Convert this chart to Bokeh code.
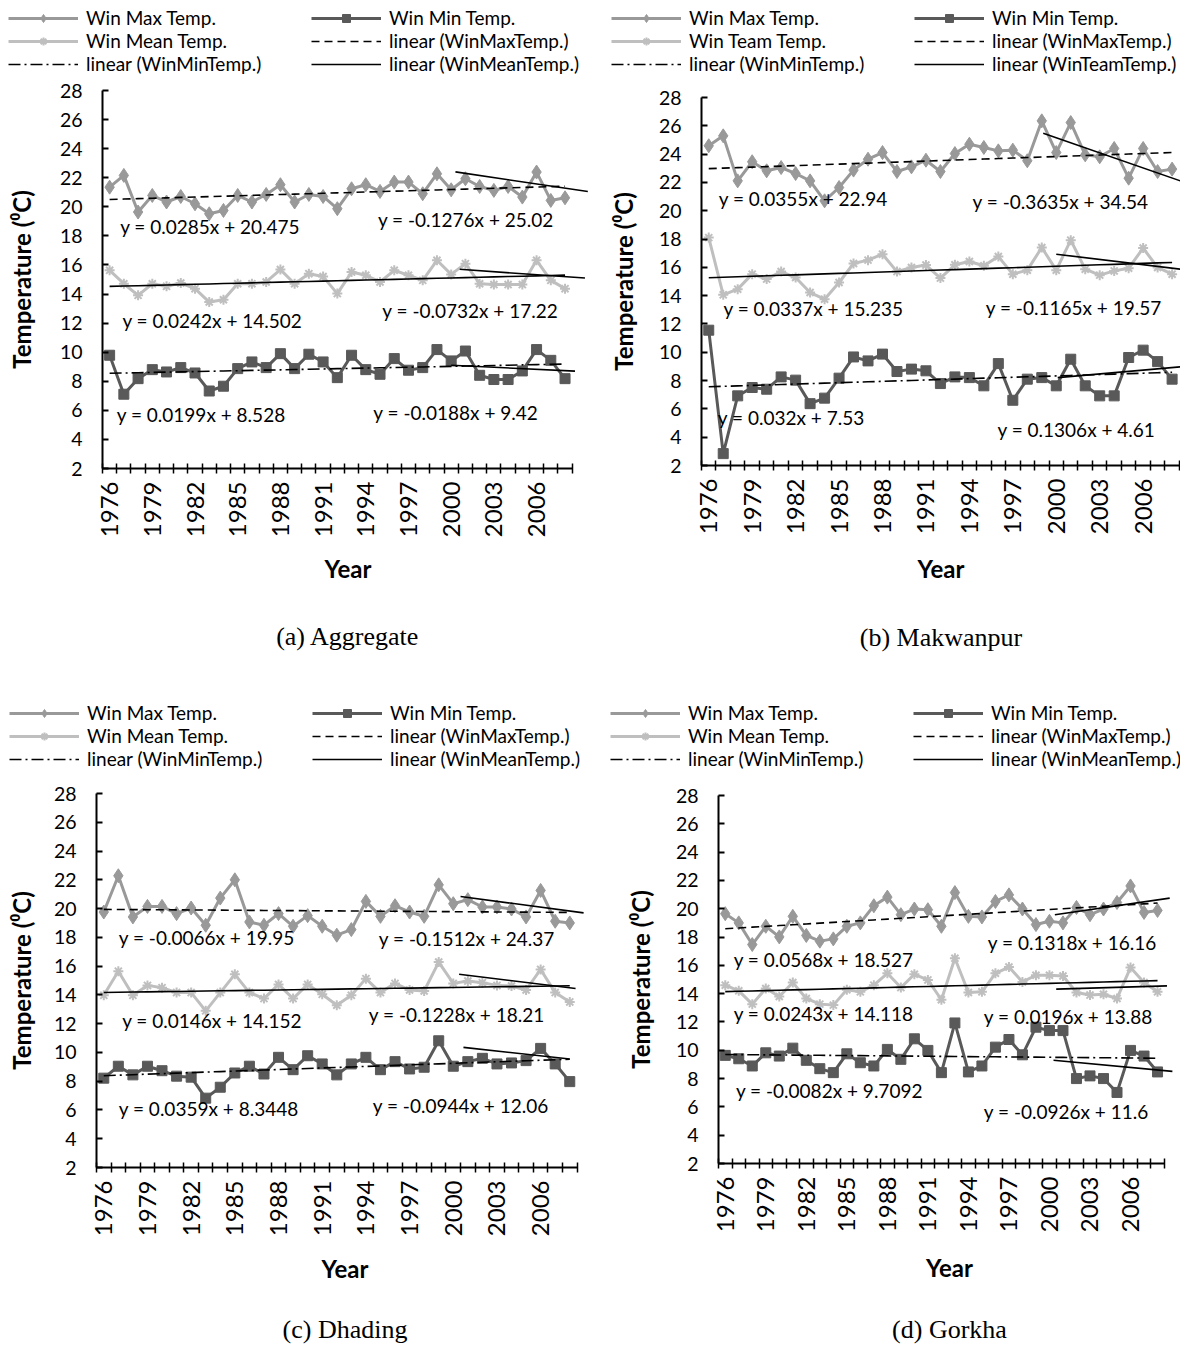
import math
from bokeh.plotting import figure
from bokeh.models import Range1d, FixedTicker, Legend, LegendItem, Label, LinearAxis
from bokeh.layouts import row, column
from bokeh.embed import file_html
from bokeh.resources import INLINE

# ---------------- data ----------------
years = list(range(1976, 2009))
year_tick_labels = list(range(1976, 2007, 3))
temp_ticks = list(range(2, 29, 2))
trend_x = list(range(1, len(years) + 1))   # Excel trendline x = 1..33

# (a) Aggregate
a_max = [21.35, 22.16, 19.64, 20.78, 20.33, 20.71, 20.21, 19.52, 19.75, 20.78,
         20.33, 20.85, 21.52, 20.33, 20.85, 20.71, 19.87, 21.24, 21.52, 21.06,
         21.7, 21.7, 20.9, 22.27, 21.17, 21.93, 21.4, 21.13, 21.4, 20.67,
         22.39, 20.44, 20.62]
a_mean = [15.63, 14.71, 13.91, 14.71, 14.53, 14.76, 14.37, 13.45, 13.61, 14.71,
          14.71, 14.83, 15.68, 14.71, 15.4, 15.2, 14.03, 15.51, 15.29, 14.83,
          15.63, 15.29, 14.94, 16.32, 15.35, 16.09, 14.71, 14.65, 14.65, 14.65,
          16.32, 14.94, 14.37]
a_min = [9.79, 7.11, 8.18, 8.8, 8.64, 8.94, 8.57, 7.33, 7.66, 8.87,
         9.33, 8.94, 9.9, 8.87, 9.86, 9.33, 8.25, 9.79, 8.8, 8.48,
         9.56, 8.76, 8.94, 10.18, 9.4, 10.08, 8.41, 8.12, 8.12, 8.71,
         10.18, 9.44, 8.18]
a_fit = {"max": (0.0285, 20.475), "mean": (0.0242, 14.502), "min": (0.0199, 8.528)}
a_recent_fit = {"max": (-0.1276, 25.02), "mean": (-0.0732, 17.22), "min": (-0.0188, 9.42)}
a_recent_line = {"max": ([2000.3, 2009.6], [22.4, 21.05]),
                 "mean": ([2000.6, 2009.4], [15.7, 15.1]),
                 "min": ([2000.0, 2008.7], [9.1, 8.7])}

# (b) Makwanpur
b_max = [24.59, 25.29, 22.11, 23.46, 22.82, 23.05, 22.63, 22.11, 20.7, 21.64,
         22.87, 23.64, 24.11, 22.77, 23.1, 23.57, 22.77, 24.04, 24.7, 24.47,
         24.23, 24.28, 23.53, 26.35, 24.11, 26.23, 23.95, 23.81, 24.4, 22.3,
         24.4, 22.77, 22.94]
b_mean = [18.1, 14.06, 14.46, 15.52, 15.17, 15.7, 15.28, 14.22, 13.75, 14.93,
          16.27, 16.51, 16.93, 15.7, 15.99, 16.16, 15.24, 16.18, 16.41, 16.11,
          16.76, 15.52, 15.8, 17.4, 15.8, 17.92, 15.87, 15.45, 15.75, 15.94,
          17.36, 15.99, 15.52]
b_min = [11.56, 2.84, 6.92, 7.51, 7.39, 8.26, 8.03, 6.37, 6.76, 8.17,
         9.67, 9.39, 9.87, 8.64, 8.81, 8.69, 7.79, 8.26, 8.21, 7.63,
         9.2, 6.61, 8.1, 8.21, 7.63, 9.51, 7.63, 6.92, 6.92, 9.63,
         10.15, 9.34, 8.1]
b_fit = {"max": (0.0355, 22.94), "mean": (0.0337, 15.235), "min": (0.032, 7.53)}
b_recent_fit = {"max": (-0.3635, 34.54), "mean": (-0.1165, 19.57), "min": (0.1306, 4.61)}
b_recent_line = {"max": ([1999.1, 2008.6], [25.48, 22.1]),
                 "mean": ([2000.0, 2008.6], [16.93, 15.87]),
                 "min": ([2000.1, 2008.6], [8.21, 8.97])}

# (c) Dhading
c_max = [19.76, 22.28, 19.42, 20.15, 20.15, 19.65, 20.04, 18.84, 20.73, 22.0,
         19.07, 18.84, 19.65, 18.77, 19.51, 18.77, 18.15, 18.54, 20.5, 19.46,
         20.2, 19.76, 19.46, 21.65, 20.34, 20.62, 20.11, 20.11, 19.97, 19.42,
         21.26, 19.12, 19.0]
c_mean = [13.97, 15.65, 13.97, 14.66, 14.5, 14.16, 14.16, 12.89, 14.16, 15.43,
          14.16, 13.74, 14.73, 13.74, 14.73, 14.04, 13.28, 13.97, 15.13, 14.16,
          14.8, 14.34, 14.27, 16.28, 14.8, 14.96, 14.85, 14.66, 14.62, 14.34,
          15.77, 14.16, 13.51]
c_min = [8.21, 9.04, 8.44, 9.04, 8.73, 8.35, 8.28, 6.82, 7.58, 8.57,
         9.04, 8.5, 9.66, 8.8, 9.77, 9.2, 8.44, 9.2, 9.66, 8.8,
         9.36, 8.85, 8.97, 10.81, 9.04, 9.36, 9.59, 9.2, 9.27, 9.43,
         10.28, 9.2, 7.97]
c_fit = {"max": (-0.0066, 19.95), "mean": (0.0146, 14.152), "min": (0.0359, 8.3448)}
c_recent_fit = {"max": (-0.1512, 24.37), "mean": (-0.1228, 18.21), "min": (-0.0944, 12.06)}
c_recent_line = {"max": ([2000.5, 2008.95], [20.84, 19.7]),
                 "mean": ([2000.4, 2008.4], [15.43, 14.44]),
                 "min": ([2000.7, 2008.0], [10.35, 9.54])}

# (d) Gorkha
d_max = [19.65, 19.0, 17.47, 18.76, 18.01, 19.46, 18.11, 17.71, 17.87, 18.76,
         19.0, 20.21, 20.82, 19.58, 19.98, 19.93, 18.76, 21.14, 19.46, 19.42,
         20.51, 20.98, 19.98, 18.88, 19.11, 19.0, 20.09, 19.58, 19.98, 20.44,
         21.61, 19.74, 19.88]
d_mean = [14.6, 14.2, 13.26, 14.36, 13.8, 14.78, 13.66, 13.26, 13.19, 14.27,
          14.13, 14.6, 15.44, 14.43, 15.37, 14.97, 13.57, 16.5, 14.08, 14.13,
          15.44, 15.88, 14.83, 15.3, 15.3, 15.25, 14.08, 13.9, 13.96, 13.66,
          15.84, 14.78, 14.13]
d_min = [9.64, 9.4, 8.89, 9.82, 9.59, 10.15, 9.29, 8.7, 8.42, 9.75,
         9.12, 8.89, 10.06, 9.36, 10.81, 9.99, 8.42, 11.93, 8.47, 8.89,
         10.22, 10.76, 9.68, 11.63, 11.39, 11.39, 8.0, 8.19, 8.0, 7.02,
         9.99, 9.59, 8.47]
d_fit = {"max": (0.0568, 18.527), "mean": (0.0243, 14.118), "min": (-0.0082, 9.7092)}
d_recent_fit = {"max": (0.1318, 16.16), "mean": (0.0196, 13.88), "min": (-0.0926, 11.6)}
d_recent_line = {"max": ([2000.4, 2008.9], [19.58, 20.75]),
                 "mean": ([2000.5, 2008.7], [14.32, 14.55]),
                 "min": ([2000.3, 2009.1], [9.29, 8.51])}

captions = ["(a) Aggregate", "(b) Makwanpur", "(c) Dhading", "(d) Gorkha"]
mean_names = ["Mean", "Team", "Mean", "Mean"]

# ---------------- layout / style (not data) ----------------
FONT = "Lato"
MAX_C, MIN_C, MEAN_C = "#999999", "#595959", "#bfbfbf"
LEG_H = 80          # height of the legend strip above each chart
LEG_ROWS_H = 68     # approx. height of the 3 legend rows

layouts = [
    dict(width=593, height=620, left=102, top=10, frame_h=378, x_end=2010.0,
         ylab_st=21, xlab_st=14, cap_st=35, leg_x=8, leg_y=7,
         eq={"max": (1976.74, 18.67), "max_r": (1994.85, 19.11),
             "mean": (1976.9, 12.19), "mean_r": (1995.16, 12.88),
             "min": (1976.5, 5.73), "min_r": (1994.53, 5.82)}),
    dict(width=587, height=620, left=108, top=17, frame_h=368, x_end=2008.58,
         ylab_st=18, xlab_st=17, cap_st=36, leg_x=18, leg_y=7,
         eq={"max": (1976.69, 20.89), "max_r": (1994.22, 20.65),
             "mean": (1977.02, 13.12), "mean_r": (1995.13, 13.14),
             "min": (1976.63, 5.39), "min_r": (1995.94, 4.57)}),
    dict(width=593, height=566, left=96, top=13, frame_h=376, x_end=2009.63,
         ylab_st=15, xlab_st=15, cap_st=28, leg_x=9, leg_y=2,
         eq={"max": (1977.03, 18.01), "max_r": (1994.89, 17.9),
             "mean": (1977.26, 12.19), "mean_r": (1994.2, 12.66),
             "min": (1977.03, 6.08), "min_r": (1994.47, 6.31)}),
    dict(width=587, height=566, left=125, top=15, frame_h=370, x_end=2009.7,
         ylab_st=18, xlab_st=18, cap_st=29, leg_x=17, leg_y=2,
         eq={"max": (1976.62, 16.42), "max_r": (1995.44, 17.59),
             "mean": (1976.62, 12.63), "mean_r": (1995.14, 12.4),
             "min": (1976.79, 7.18), "min_r": (1995.14, 5.66)}),
]

panel_data = [
    (a_max, a_min, a_mean, a_fit, a_recent_fit, a_recent_line),
    (b_max, b_min, b_mean, b_fit, b_recent_fit, b_recent_line),
    (c_max, c_min, c_mean, c_fit, c_recent_fit, c_recent_line),
    (d_max, d_min, d_mean, d_fit, d_recent_fit, d_recent_line),
]

STYLE = {
    "max_line": dict(line_color=MAX_C, line_width=3),
    "max_mark": dict(marker="diamond", size=14, fill_color=MAX_C, line_color=MAX_C),
    "min_line": dict(line_color=MIN_C, line_width=3),
    "min_mark": dict(marker="square", size=10, fill_color=MIN_C, line_color=MIN_C),
    "mean_line": dict(line_color=MEAN_C, line_width=3),
    "mean_mark": dict(marker="asterisk", size=10, line_color=MEAN_C, line_width=2),
    "t_max": dict(line_color="black", line_width=1.6, line_dash="8 5"),
    "t_min": dict(line_color="black", line_width=1.6, line_dash="12 4 2 4"),
    "t_mean": dict(line_color="black", line_width=1.6),
}


def eq_text(fit):
    m, b = fit
    return f"y = {m}x + {b}"


def make_legend(i):
    L = layouts[i]
    mean_name = mean_names[i]
    lf = figure(width=L["width"], height=LEG_H, x_range=Range1d(0, 1), y_range=Range1d(0, 1),
                x_axis_type=None, y_axis_type=None, toolbar_location=None,
                output_backend="svg", min_border=0, min_border_left=0, min_border_right=0,
                min_border_top=0, min_border_bottom=0)
    lf.outline_line_color = None
    lf.background_fill_color = "white"
    lf.border_fill_color = "white"
    # key samples only (kept outside the visible range; the legend draws them)
    off_x, off_y = [-5, -4], [-5, -4]
    r = {}
    for k in ("max_line", "min_line", "mean_line", "t_max", "t_min", "t_mean"):
        r[k] = lf.line(off_x, off_y, **STYLE[k])
    for k in ("max_mark", "min_mark", "mean_mark"):
        r[k] = lf.scatter(off_x[:1], off_y[:1], **STYLE[k])
    items = [
        LegendItem(label="Win Max Temp.", renderers=[r["max_line"], r["max_mark"]]),
        LegendItem(label="Win Min Temp.", renderers=[r["min_line"], r["min_mark"]]),
        LegendItem(label=f"Win {mean_name} Temp.", renderers=[r["mean_line"], r["mean_mark"]]),
        LegendItem(label="linear (WinMaxTemp.)", renderers=[r["t_max"]]),
        LegendItem(label="linear (WinMinTemp.)", renderers=[r["t_min"]]),
        LegendItem(label=f"linear (Win{mean_name}Temp.)", renderers=[r["t_mean"]]),
    ]
    legend = Legend(items=items, orientation="horizontal", ncols=2,
                    location=(L["leg_x"], LEG_H - LEG_ROWS_H - L["leg_y"]),
                    glyph_width=70, glyph_height=20, label_standoff=8,
                    label_width=225, label_height=20, spacing=0, padding=0, margin=0,
                    label_text_font=FONT, label_text_font_size="19px",
                    label_text_color="black",
                    background_fill_alpha=0, border_line_alpha=0)
    lf.add_layout(legend)
    return lf


def make_panel(i):
    L = layouts[i]
    s_max, s_min, s_mean, fit, rfit, rline = panel_data[i]
    bottom = L["height"] - L["top"] - L["frame_h"]
    p = figure(width=L["width"], height=L["height"],
               x_range=Range1d(1975.5, L["x_end"]), y_range=Range1d(2, 28),
               output_backend="svg", toolbar_location=None,
               min_border_left=L["left"], min_border_top=L["top"],
               min_border_bottom=bottom, min_border_right=0)
    p.outline_line_color = None
    p.xgrid.visible = False
    p.ygrid.visible = False
    p.background_fill_color = "white"
    p.border_fill_color = "white"

    # series
    p.line(years, s_max, **STYLE["max_line"])
    p.scatter(years, s_max, **STYLE["max_mark"])
    p.line(years, s_min, **STYLE["min_line"])
    p.scatter(years, s_min, **STYLE["min_mark"])
    p.line(years, s_mean, **STYLE["mean_line"])
    p.scatter(years, s_mean, **STYLE["mean_mark"])

    # full-period linear trends (from the equations shown)
    def trend(key):
        m, b = fit[key]
        return [m * t + b for t in trend_x]
    p.line(years, trend("max"), **STYLE["t_max"])
    p.line(years, trend("min"), **STYLE["t_min"])
    p.line(years, trend("mean"), **STYLE["t_mean"])
    # recent-period trends
    for key in ("max", "mean", "min"):
        xs, ys = rline[key]
        p.line(xs, ys, line_color="black", line_width=1.6)

    # equation labels
    for key in ("max", "mean", "min"):
        for suffix, f in (("", fit), ("_r", rfit)):
            x, y = L["eq"][key + suffix]
            p.add_layout(Label(x=x, y=y, text=eq_text(f[key]), text_font=FONT,
                               text_font_size="19px", text_color="black",
                               text_baseline="middle", text_align="left"))

    # axes
    xa = p.xaxis[0]
    xa.ticker = FixedTicker(ticks=year_tick_labels,
                            minor_ticks=[y - 0.5 for y in years] + [years[-1] + 0.5])
    xa.bounds = (years[0] - 0.5, years[-1] + 0.5)
    xa.major_tick_in = 0
    xa.major_tick_out = 0
    xa.minor_tick_in = 5
    xa.minor_tick_out = 5
    xa.minor_tick_line_color = "black"
    xa.minor_tick_line_width = 1.5
    xa.axis_line_color = "black"
    xa.axis_line_width = 2
    xa.major_label_orientation = math.pi / 2
    xa.major_label_standoff = 8
    xa.major_label_text_font = FONT
    xa.major_label_text_font_size = "24px"
    xa.major_label_text_color = "black"
    xa.axis_label = "Year"
    xa.axis_label_text_font = FONT
    xa.axis_label_text_font_size = "24px"
    xa.axis_label_text_font_style = "bold"
    xa.axis_label_text_color = "black"
    xa.axis_label_standoff = L["xlab_st"]

    ya = p.yaxis[0]
    ya.ticker = FixedTicker(ticks=temp_ticks)
    ya.major_tick_in = 6
    ya.major_tick_out = 0
    ya.minor_tick_line_color = None
    ya.major_tick_line_color = "black"
    ya.major_tick_line_width = 2
    ya.axis_line_color = "black"
    ya.axis_line_width = 2
    ya.major_label_standoff = 20
    ya.major_label_text_font = FONT
    ya.major_label_text_font_size = "19.5px"
    ya.major_label_text_color = "black"
    ya.axis_label = "Temperature (\u2070C)"
    ya.axis_label_text_font = FONT
    ya.axis_label_text_font_size = "24px"
    ya.axis_label_text_font_style = "bold"
    ya.axis_label_text_color = "black"
    ya.axis_label_standoff = L["ylab_st"]

    # caption (sub-figure label) under the axis title
    cap = LinearAxis(ticker=FixedTicker(ticks=[]), axis_label=captions[i],
                     axis_line_color=None, major_tick_line_color=None,
                     minor_tick_line_color=None, major_tick_in=0, major_tick_out=0,
                     minor_tick_in=0, minor_tick_out=0, major_label_standoff=0,
                     major_label_text_font_size="0px",
                     axis_label_standoff=L["cap_st"],
                     axis_label_text_font="Liberation Serif",
                     axis_label_text_font_size="26px",
                     axis_label_text_font_style="normal",
                     axis_label_text_color="black")
    p.add_layout(cap, "below")
    return p


# each figure wrapped in its own column so that frames are not aligned across figures
cells = [column(column(make_legend(i)), column(make_panel(i))) for i in range(4)]
page = column(row(cells[0], cells[1]), row(cells[2], cells[3]))

with open("out.html", "w") as f:
    f.write(file_html(page, INLINE, title="Winter temperature trends"))
